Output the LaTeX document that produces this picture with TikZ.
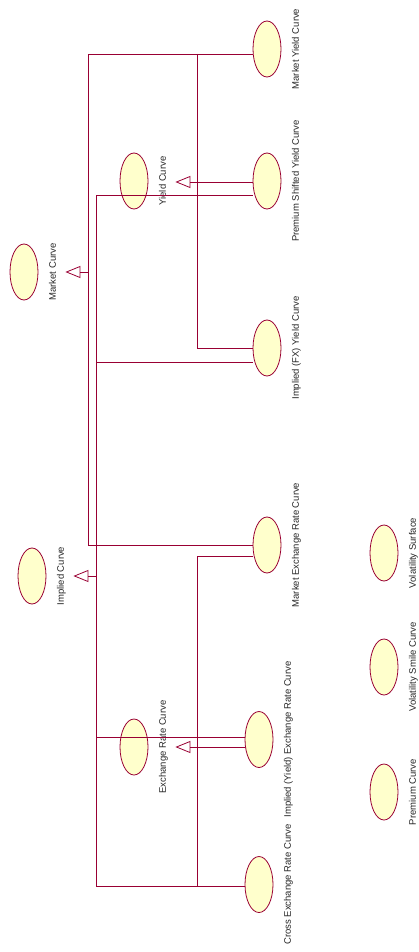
\documentclass[tikz,border=0pt]{standalone}
\usepackage{fontspec}
\setmainfont{Liberation Sans}
\usepackage{tikz}
\usetikzlibrary{arrows.meta,shapes.geometric}
\definecolor{rosered}{RGB}{153,0,51}
\definecolor{rosefill}{RGB}{255,255,204}

\begin{document}
\begin{tikzpicture}[x=1pt,y=-1pt,
    cls/.style={ellipse,draw=rosered,fill=rosefill,line width=.8pt,
      minimum width=28pt,minimum height=56pt,inner sep=0pt},
    lbl/.style={rotate=90,anchor=north,inner sep=0pt,text=black!85,
      font=\fontsize{9.5}{11}\selectfont},
    link/.style={draw=rosered,line width=.8pt},
    gen/.style={link,-{Triangle[open,length=15pt,width=12pt]}}]
  \useasboundingbox (0,0) rectangle (419,952);
  \def\gap{10.5pt}
  % classes
  \node[cls] (myc) at (267,49) {};
  \node[cls] (psyc) at (267,181) {};
  \node[cls] (yc) at (134,181) {};
  \node[cls] (mc) at (24,272) {};
  \node[cls] (ifxyc) at (267,348) {};
  \node[cls] (merc) at (267,545) {};
  \node[cls] (ic) at (32,576) {};
  \node[cls] (vs) at (384,553) {};
  \node[cls] (vsc) at (384,667) {};
  \node[cls] (iyerc) at (259,739.5) {};
  \node[cls] (erc) at (134,747) {};
  \node[cls] (pc) at (384,792) {};
  \node[cls] (cerc) at (259,884.5) {};
  % names, turned on their side
  \node[lbl] (mycl) at ([xshift=\gap]myc.east) {Market Yield Curve};
  \node[lbl] (psycl) at ([xshift=\gap]psyc.east) {Premium Shifted Yield Curve};
  \node[lbl] (ycl) at ([xshift=\gap]yc.east) {Yield Curve};
  \node[lbl] (mcl) at ([xshift=\gap]mc.east) {Market Curve};
  \node[lbl] (ifxycl) at ([xshift=\gap]ifxyc.east) {Implied (FX) Yield Curve};
  \node[lbl] (mercl) at ([xshift=\gap]merc.east) {Market Exchange Rate Curve};
  \node[lbl] (icl) at ([xshift=\gap]ic.east) {Implied Curve};
  \node[lbl] (vsl) at ([xshift=\gap]vs.east) {Volatility Surface};
  \node[lbl] (vscl) at ([xshift=\gap]vsc.east) {Volatility Smile Curve};
  \node[lbl] (iyercl) at ([xshift=\gap]iyerc.east) {Implied (Yield) Exchange Rate Curve};
  \node[lbl] (ercl) at ([xshift=\gap]erc.east) {Exchange Rate Curve};
  \node[lbl] (pcl) at ([xshift=\gap]pc.east) {Premium Curve};
  \node[lbl] (cercl) at ([xshift=\gap]cerc.east) {Cross Exchange Rate Curve};
  % buses, joints and arrow tips
  \coordinate (mbus) at (88,0);
  \coordinate (ibus) at (96,0);
  \coordinate (ybus) at (197,0);
  \coordinate (ebus) at (197,0);
  \coordinate (myj) at ([yshift=-5pt]myc.west);
  \coordinate (psyj) at ([yshift=-1pt]psyc.west);
  \coordinate (psyi) at ([yshift=-14pt]psyc.west);
  \coordinate (ifxyi) at ([yshift=-14pt]ifxyc.west);
  \coordinate (merj) at ([yshift=-11pt]merc.west);
  \coordinate (iyeri) at ([yshift=2.5pt]iyerc.west);
  \coordinate (cerj) at ([yshift=-1.5pt]cerc.west);
  \coordinate (mctip) at ([xshift=27pt]mc.east);
  \coordinate (yctip) at ([xshift=27pt]yc.east);
  \coordinate (ictip) at ([xshift=27pt]ic.east);
  \coordinate (erctip) at ([xshift=27pt]erc.east);
  % market curves
  \draw[link] (myj) -| (mbus |- merc.west) -- (merc.west);
  \draw[gen] (mbus |- mc) -- (mctip);
  % yield curves
  \draw[link] (ybus |- myj) -- (ybus |- ifxyc.west) -- (ifxyc.west);
  \draw[gen] (psyj) -- (yctip |- psyj);
  % implied curves
  \draw[link] (psyi) -| (ibus |- cerj) -- (cerj);
  \draw[link] (ibus |- ifxyi) -- (ifxyi);
  \draw[link] (ibus |- iyeri) -- (iyeri);
  \draw[gen] (ibus |- ic) -- (ictip);
  % exchange rate curves
  \draw[link] (merj) -| (ebus |- cerj);
  \draw[gen] (iyerc.west |- erc) -- (erctip);
\end{tikzpicture}
\end{document}
